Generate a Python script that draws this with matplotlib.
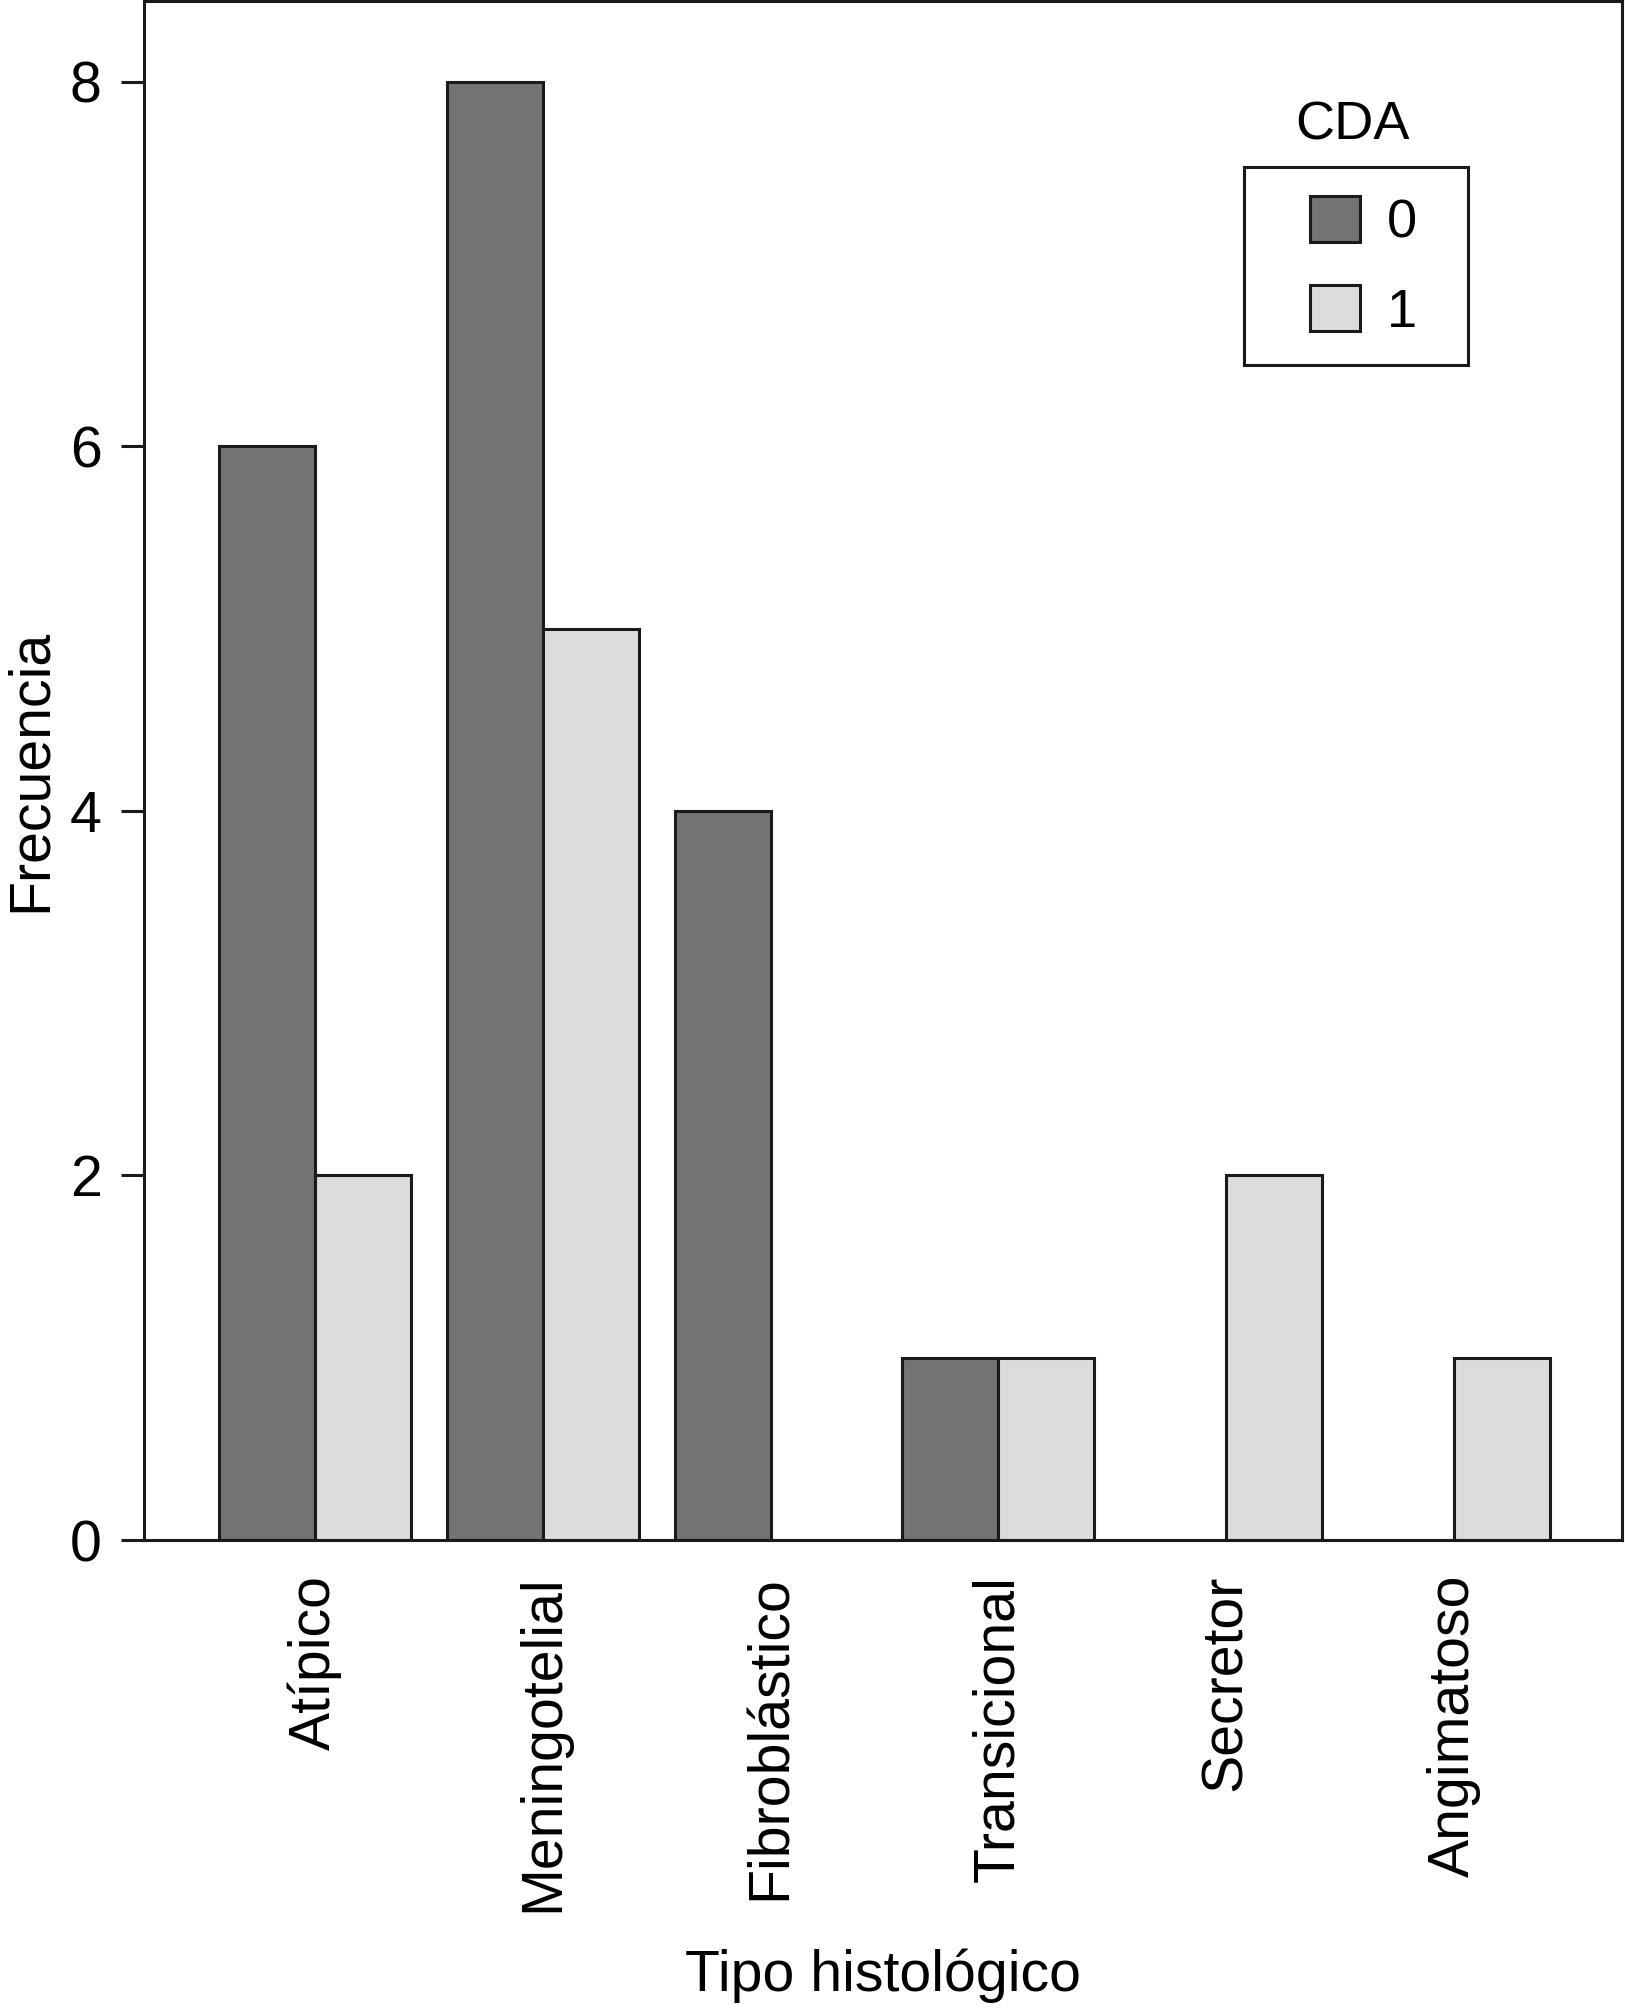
import matplotlib
matplotlib.use("Agg")
import matplotlib.pyplot as plt
import matplotlib.patches as mpatches
import numpy as np

plt.rcParams['font.family'] = ['Liberation Sans', 'DejaVu Sans']

# frecuencias por tipo histologico y CDA
tipos = ["Atípico", "Meningotelial", "Fibroblástico", "Transicional", "Secretor", "Angimatoso"]
cda_0 = [6, 8, 4, 1, 0, 0]
cda_1 = [2, 5, 0, 1, 2, 1]
grupos = ["0", "1"]
y_ticks = [0, 2, 4, 6, 8]

oscuro = "#737373"
claro = "#dcdcdc"
borde = "#1a1a1a"
fs = 41.2
lw = 2.2

W, H = 1625, 2013
fig = plt.figure(figsize=(W / 100, H / 100), dpi=100)
ax = fig.add_axes([144 / W, 1 - 1540 / H, (1622 - 144) / W, (1540 - 1.5) / H])

x = np.arange(len(tipos))
w = 0.421
ax.bar(x - w / 2, cda_0, w, color=oscuro, edgecolor=borde, linewidth=lw, label=grupos[0])
ax.bar(x + w / 2, cda_1, w, color=claro, edgecolor=borde, linewidth=lw, label=grupos[1])

ax.set_xlim(-0.751, 5.738)
ax.set_ylim(0, 8.44)
ax.set_yticks(y_ticks)
ax.set_xticks(x)
ax.set_xticklabels(tipos, rotation=90)
ax.tick_params(axis='y', length=16.5, width=lw, pad=14, labelsize=fs, color=borde)
ax.tick_params(axis='x', length=0, pad=25, labelsize=fs)
for s in ax.spines.values():
    s.set_linewidth(lw)
    s.set_color(borde)

ax.set_xlabel("Tipo histológico", fontsize=fs)
ax.xaxis.set_label_coords(0.5, -0.2655)
ax.set_ylabel("Frecuencia", fontsize=fs)
ax.yaxis.set_label_coords(-0.0585, 0.5)

# leyenda con titulo encima de la caja
lfs = 39
lpx = lfs * 100 / 72
fig.add_artist(mpatches.Rectangle((1244 / W, 1 - 365 / H), 224 / W, 198 / H,
                                  transform=fig.transFigure, fill=False,
                                  edgecolor=borde, linewidth=lw))
fig.text(1352 / W, 1 - 140 / H, "CDA", ha='center', va='baseline', fontsize=lfs)
ax.legend(loc='upper left', bbox_to_anchor=(1310 / W, 1 - 196 / H),
          bbox_transform=fig.transFigure, frameon=False, fontsize=lfs,
          handlelength=50 / lpx, handleheight=50 / lpx, handletextpad=27 / lpx,
          labelspacing=0.68, borderpad=0, borderaxespad=0)

fig.savefig("out.png", dpi=100)
